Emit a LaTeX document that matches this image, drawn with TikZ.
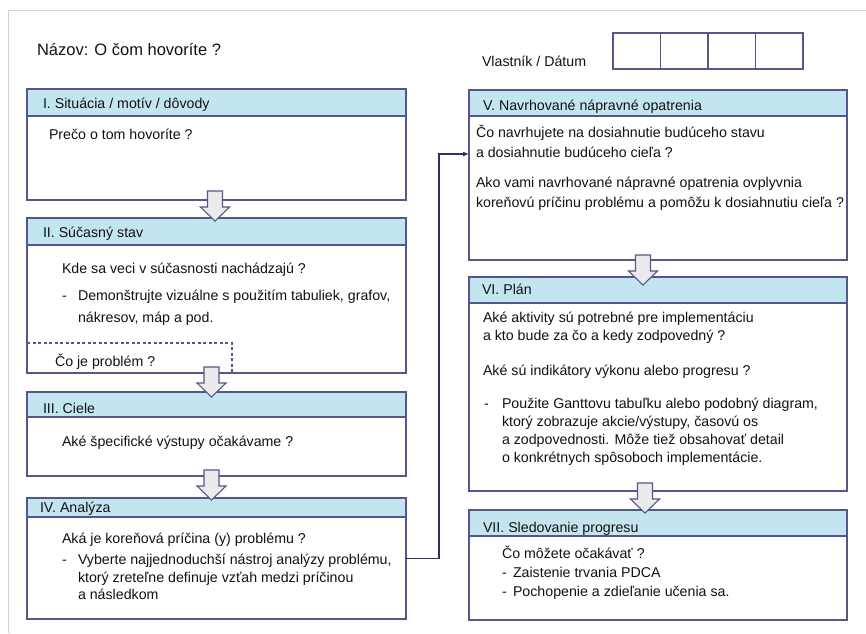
\documentclass[tikz,border=0pt]{standalone}
\usepackage{fontspec}
\setmainfont{Liberation Sans}
\usetikzlibrary{arrows.meta,calc}

\definecolor{boxline}{HTML}{57568A}
\definecolor{headfill}{HTML}{C2E5EF}
\definecolor{arrowfill}{HTML}{EBEBEB}
\definecolor{framegray}{HTML}{D0D0D0}
\definecolor{linkcol}{HTML}{2F2F6B}
\definecolor{ink}{HTML}{121212}

\tikzset{
  panel/.style={rectangle, draw=boxline, line width=1.3pt, fill=white,
    anchor=north west, inner sep=0pt, outer sep=0pt},
  headbar/.style={panel, fill=headfill},
  cell/.style={panel, minimum width=47.5pt, minimum height=36pt},
  txt/.style={anchor=base west, inner sep=0pt, outer sep=0pt, text=ink,
    font=\fontsize{14.2}{17}\selectfont},
  titletxt/.style={txt, font=\fontsize{16.5}{20}\selectfont},
  linkarrow/.style={draw=linkcol, line width=1.1pt, -{Latex[length=6pt,width=5pt]}},
  pics/flowarrow/.style={code={
    \draw[boxline, fill=arrowfill, line width=1.1pt, line join=miter]
      (-7.5,0) -- (7.5,0) -- (7.5,16) -- (14.5,16) -- (0,30) -- (-14.5,16)
      -- (-7.5,16) -- cycle;}}
}

\begin{document}
\begin{tikzpicture}[x=1pt, y=-1pt]
\useasboundingbox (0,0) rectangle (866,633);

% page frame (top and left edges)
\draw[framegray, line width=1.5pt] (8.5,633) -- (8.5,10.5) -- (866,10.5);

% title and owner/date fields
\node[titletxt] (title) at (37,55) {Názov: O čom hovoríte ?};
\node[txt] (owner) at (482,66) {Vlastník / Dátum};
\node[cell] (o1) at (613,33) {};
\node[cell] (o2) at (660.5,33) {};
\node[cell] (o3) at (708,33) {};
\node[cell] (o4) at (755.5,33) {};

% left column panels
\node[panel, minimum width=379pt, minimum height=111pt] (pI) at (27,89) {};
\node[headbar, minimum width=379pt, minimum height=27pt] (hI) at (27,89) {};
\node[panel, minimum width=379pt, minimum height=155pt] (pII) at (27,218) {};
\node[headbar, minimum width=379pt, minimum height=27pt] (hII) at (27,218) {};
\node[panel, minimum width=379pt, minimum height=84pt] (pIII) at (27,392) {};
\node[headbar, minimum width=379pt, minimum height=25pt] (hIII) at (27,392) {};
\node[panel, minimum width=379pt, minimum height=121pt] (pIV) at (27,498) {};
\node[headbar, minimum width=379pt, minimum height=19pt] (hIV) at (27,498) {};

% right column panels
\node[panel, minimum width=378pt, minimum height=170pt] (pV) at (469,90) {};
\node[headbar, minimum width=378pt, minimum height=26pt] (hV) at (469,90) {};
\node[panel, minimum width=378pt, minimum height=214pt] (pVI) at (469,277) {};
\node[headbar, minimum width=378pt, minimum height=26pt] (hVI) at (469,277) {};
\node[panel, minimum width=378pt, minimum height=110pt] (pVII) at (469,510) {};
\node[headbar, minimum width=378pt, minimum height=26pt] (hVII) at (469,510) {};

% dashed problem area inside II
\coordinate (dashEnd) at (232,373);
\draw[boxline, line width=1.1pt, dash pattern=on 3pt off 2.5pt]
  (pII.west |- 0,343) -| (dashEnd);

% headings
\node[txt] (tI) at (43,108) {I. Situácia / motív / dôvody};
\node[txt] (tII) at (43,237) {II. Súčasný stav};
\node[txt] (tIII) at (43,413) {III. Ciele};
\node[txt] (tIV) at (40,512) {IV. Analýza};
\node[txt] (tV) at (483,110) {V. Navrhované nápravné opatrenia};
\node[txt] (tVI) at (482,294) {VI. Plán};
\node[txt] (tVII) at (483,532) {VII. Sledovanie progresu};

% I
\node[txt] (bI1) at (49,139) {Prečo o tom hovoríte ?};
% II
\node[txt] (bII1) at (62,273) {Kde sa veci v súčasnosti nachádzajú ?};
\node[txt] (bII2d) at (62,300) {-};
\node[txt] (bII2) at (78,300) {Demonštrujte vizuálne s použitím tabuliek, grafov,};
\node[txt] (bII3) at (78,322) {nákresov, máp a pod.};
\node[txt] (bII4) at (55,366) {Čo je problém ?};
% III
\node[txt] (bIII1) at (62,446) {Aké špecifické výstupy očakávame ?};
% IV
\node[txt] (bIV1) at (62,543) {Aká je koreňová príčina (y) problému ?};
\node[txt] (bIV2d) at (62,564) {-};
\node[txt] (bIV2) at (78,564) {Vyberte najjednoduchší nástroj analýzy problému,};
\node[txt] (bIV3) at (78,582) {ktorý zreteľne definuje vzťah medzi príčinou};
\node[txt] (bIV4) at (78,599) {a následkom};
% V
\node[txt] (bV1) at (476,137) {Čo navrhujete na dosiahnutie budúceho stavu};
\node[txt] (bV2) at (476,157) {a dosiahnutie budúceho cieľa ?};
\node[txt] (bV3) at (476,187) {Ako vami navrhované nápravné opatrenia ovplyvnia};
\node[txt] (bV4) at (476,207) {koreňovú príčinu problému a pomôžu k dosiahnutiu cieľa ?};
% VI
\node[txt] (bVI1) at (483,322) {Aké aktivity sú potrebné pre implementáciu};
\node[txt] (bVI2) at (483,340) {a kto bude za čo a kedy zodpovedný ?};
\node[txt] (bVI3) at (483,375) {Aké sú indikátory výkonu alebo progresu ?};
\node[txt] (bVI4d) at (484,408) {-};
\node[txt] (bVI4) at (502,408) {Použite Ganttovu tabuľku alebo podobný diagram,};
\node[txt] (bVI5) at (502,426) {ktorý zobrazuje akcie/výstupy, časovú os};
\node[txt] (bVI6) at (502,444) {a zodpovednosti. Môže tiež obsahovať detail};
\node[txt] (bVI7) at (502,462) {o konkrétnych spôsoboch implementácie.};
% VII
\node[txt] (bVII1) at (502,558) {Čo môžete očakávať ?};
\node[txt] (bVII2d) at (502,577) {-};
\node[txt] (bVII2) at (513,577) {Zaistenie trvania PDCA};
\node[txt] (bVII3d) at (502,596) {-};
\node[txt] (bVII3) at (513,596) {Pochopenie a zdieľanie učenia sa.};

% flow arrows between panels
\pic at (215,191) {flowarrow};
\pic at (211.5,367) {flowarrow};
\pic at (211.5,470) {flowarrow};
\pic at (643,255) {flowarrow};
\pic at (645,483) {flowarrow};

% link from analysis to countermeasures
\draw[linkarrow] (pIV.east) -- ++(33,0) |- ($(pV.north west)+(0,64)$);
\end{tikzpicture}
\end{document}
